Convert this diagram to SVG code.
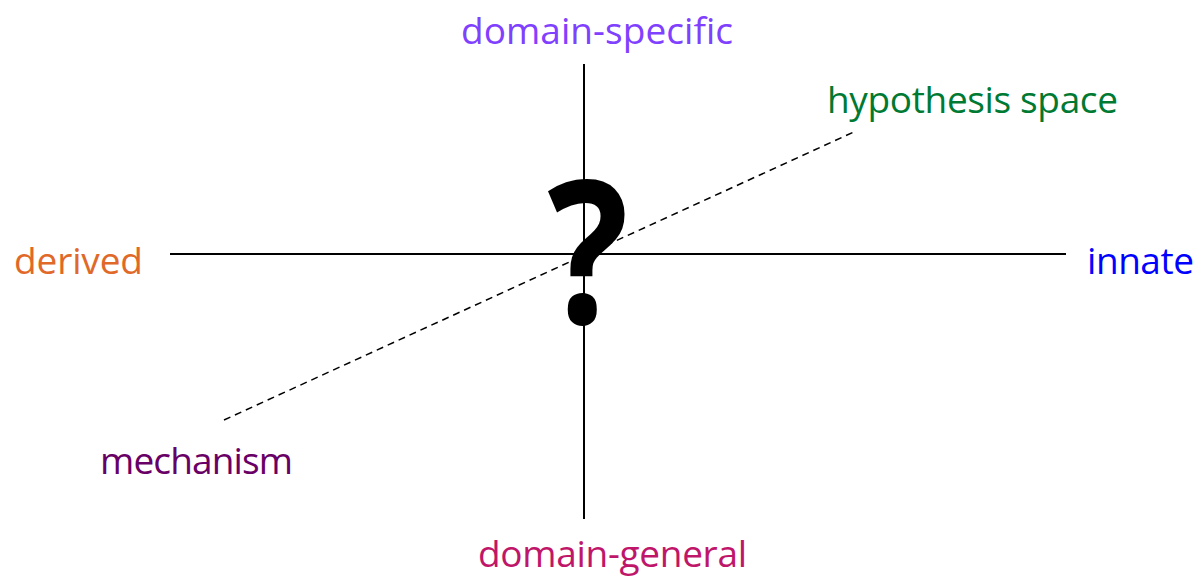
<svg xmlns="http://www.w3.org/2000/svg" width="1197" height="579" viewBox="0 0 1197 579">
<style>
.lbl{font-family:"Open Sans","Liberation Sans",sans-serif;font-size:37px}
.axis{stroke:#000;stroke-width:2;fill:none}
.dash{stroke:#000;stroke-width:1.5;stroke-dasharray:7 5;fill:none}
</style>
<rect width="1197" height="579" fill="#fff"/>
<g id="connectors">
<line class="axis" x1="584" y1="64" x2="584" y2="519"/>
<line class="axis" x1="170" y1="254" x2="1066" y2="254"/>
<line class="dash" x1="224" y1="420" x2="856" y2="131"/>
</g>
<g id="question"><text x="588" y="323" text-anchor="middle" font-family="Open Sans, Liberation Sans, sans-serif" font-weight="bold" font-size="200" transform="translate(588 0) scale(0.85 1) translate(-588 0)">?</text></g>
<g id="domain-specific"><text class="lbl" x="461" y="44" fill="#8040FF" textLength="272">domain-specific</text></g>
<g id="derived"><text class="lbl" x="14" y="274" fill="#E0692A" textLength="129">derived</text></g>
<g id="innate"><text class="lbl" x="1087" y="274" fill="#0000FF" textLength="107">innate</text></g>
<g id="mechanism"><text class="lbl" x="100" y="474" fill="#690066" textLength="193">mechanism</text></g>
<g id="hypothesis-space"><text class="lbl" x="827" y="113" fill="#007A33" textLength="291">hypothesis space</text></g>
<g id="domain-general"><text class="lbl" x="478" y="567" fill="#C0166A" textLength="269">domain-general</text></g>
</svg>
